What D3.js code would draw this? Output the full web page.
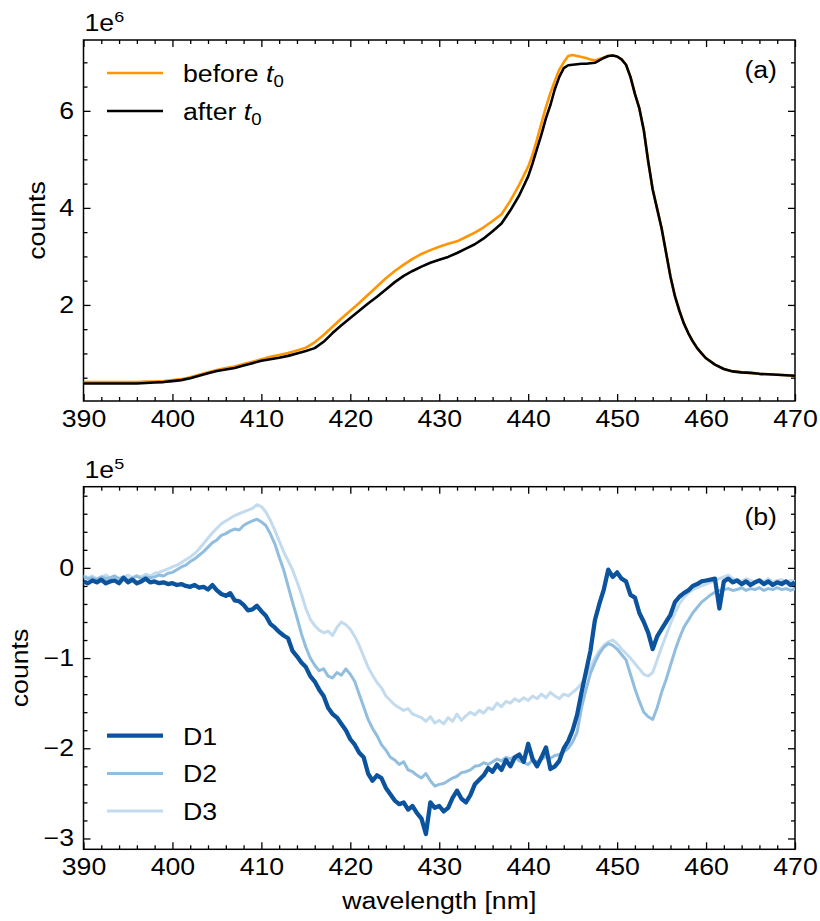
<!DOCTYPE html>
<html lang="en">
<head>
<meta charset="UTF-8">
<title>Spectra before / after t0</title>
<script src="https://d3js.org/d3.v7.min.js"></script>
<style>
  body { margin: 0; background: #fff; }
  svg { display: block; font-family: "Liberation Sans", Arial, sans-serif; }
</style>
</head>
<body>
<svg id="chart" width="820" height="921"></svg>
<script>
// ---- data (panel a in 1e6 counts, panel b in 1e5 counts) ----
const xTicks = [390, 400, 410, 420, 430, 440, 450, 460, 470];
const yTicksA = [2, 4, 6];
const yTicksB = [0, -1, -2, -3];

const wlA = [390,391,392,393,394,395,396,397,398,399,400,401,402,403,404,405,406,407,408,409,
  410,411,412,413,414,415,416,417,418,419,420,421,422,423,424,425,426,427,428,429,
  430,431,432,433,434,435,436,437,438,439,440,440.5,441,441.5,442,442.5,443,443.5,444,444.5,
  445,445.5,446,446.5,447,447.5,448,448.5,449,449.5,450,450.5,451,451.5,452,452.5,453,453.5,454,454.5,
  455,455.5,456,456.5,457,457.5,458,458.5,459,459.5,460,461,462,463,464,465,466,467,468,469,470];
const before = [0.41,0.41,0.41,0.41,0.41,0.41,0.41,0.42,0.42,0.43,0.45,0.47,0.51,0.56,0.61,0.66,0.70,0.73,0.78,0.83,
  0.88,0.93,0.97,1.01,1.06,1.12,1.23,1.38,1.55,1.72,1.88,2.04,2.21,2.38,2.55,2.70,2.83,2.95,3.05,3.13,
  3.20,3.26,3.31,3.40,3.49,3.60,3.73,3.87,4.15,4.48,4.85,5.10,5.42,5.75,6.08,6.37,6.62,6.85,7.00,7.13,
  7.15,7.13,7.11,7.09,7.06,7.04,7.07,7.10,7.13,7.14,7.12,7.06,6.95,6.70,6.35,6.05,5.60,4.95,4.38,3.98,
  3.58,3.08,2.58,2.18,1.88,1.62,1.42,1.25,1.11,1.00,0.90,0.77,0.68,0.63,0.61,0.60,0.58,0.57,0.56,0.55,0.54];
const after = [0.38,0.38,0.38,0.38,0.38,0.38,0.38,0.39,0.40,0.41,0.43,0.45,0.49,0.54,0.59,0.64,0.67,0.70,0.75,0.80,
  0.85,0.88,0.91,0.95,1.00,1.05,1.11,1.24,1.42,1.58,1.73,1.88,2.03,2.17,2.32,2.47,2.60,2.70,2.79,2.87,
  2.93,2.99,3.07,3.16,3.25,3.37,3.52,3.68,3.95,4.26,4.65,4.92,5.22,5.52,5.85,6.12,6.45,6.70,6.88,6.94,
  6.95,6.96,6.97,6.97,6.98,6.99,7.04,7.09,7.13,7.14,7.12,7.06,6.95,6.70,6.35,6.05,5.60,4.95,4.38,3.98,
  3.58,3.08,2.58,2.18,1.88,1.62,1.42,1.25,1.11,1.00,0.90,0.77,0.68,0.63,0.61,0.60,0.58,0.57,0.56,0.55,0.54];

const wlB = [390,390.5,391,391.5,392,392.5,393,393.5,394,394.5,395,395.5,396,396.5,397,397.5,398,398.5,399,399.5,
  400,400.5,401,401.5,402,402.5,403,403.5,404,404.5,405,405.5,406,406.5,407,407.5,408,408.5,409,409.5,
  410,410.5,411,411.5,412,412.5,413,413.5,414,414.5,415,415.5,416,416.5,417,417.5,418,418.5,419,419.5,
  420,420.5,421,421.5,422,422.5,423,423.5,424,424.5,425,425.5,426,426.5,427,427.5,428,428.5,429,429.5,
  430,430.5,431,431.5,432,432.5,433,433.5,434,434.5,435,435.5,436,436.5,437,437.5,438,438.5,439,439.5,
  440,440.5,441,441.5,442,442.5,443,443.5,444,444.5,445,445.5,446,446.5,447,447.5,448,448.5,449,449.5,
  450,450.5,451,451.5,452,452.5,453,453.5,454,454.5,455,455.5,456,456.5,457,457.5,458,458.5,459,459.5,
  460,460.5,461,461.5,462,462.5,463,463.5,464,464.5,465,465.5,466,466.5,467,467.5,468,468.5,469,469.5,470];
const d1 = [-0.15,-0.17,-0.14,-0.16,-0.13,-0.17,-0.15,-0.14,-0.17,-0.11,
  -0.16,-0.13,-0.17,-0.15,-0.12,-0.16,-0.15,-0.17,-0.16,-0.18,
  -0.17,-0.19,-0.18,-0.20,-0.21,-0.19,-0.22,-0.21,-0.24,-0.19,
  -0.25,-0.29,-0.31,-0.28,-0.36,-0.37,-0.41,-0.47,-0.46,-0.42,
  -0.48,-0.53,-0.62,-0.66,-0.71,-0.75,-0.78,-0.92,-0.98,-1.05,
  -1.10,-1.20,-1.26,-1.35,-1.42,-1.55,-1.62,-1.66,-1.73,-1.80,
  -1.90,-1.96,-2.05,-2.10,-2.28,-2.36,-2.30,-2.33,-2.44,-2.51,
  -2.58,-2.62,-2.60,-2.68,-2.64,-2.72,-2.78,-2.95,-2.60,-2.66,
  -2.64,-2.70,-2.66,-2.55,-2.47,-2.56,-2.60,-2.52,-2.40,-2.35,
  -2.30,-2.22,-2.26,-2.18,-2.24,-2.13,-2.20,-2.10,-2.07,-2.15,
  -1.95,-2.12,-2.20,-2.10,-1.99,-2.23,-2.20,-2.14,-2.00,-1.92,
  -1.80,-1.63,-1.38,-1.15,-0.92,-0.58,-0.40,-0.24,-0.02,-0.10,
  -0.05,-0.12,-0.15,-0.30,-0.33,-0.50,-0.60,-0.72,-0.90,-0.76,
  -0.68,-0.60,-0.52,-0.38,-0.32,-0.28,-0.25,-0.20,-0.18,-0.15,
  -0.14,-0.13,-0.12,-0.45,-0.15,-0.12,-0.16,-0.14,-0.18,-0.15,
  -0.19,-0.16,-0.14,-0.18,-0.15,-0.19,-0.16,-0.18,-0.15,-0.19,
  -0.16];
const d2 = [-0.10,-0.12,-0.11,-0.13,-0.10,-0.12,-0.11,-0.09,-0.12,-0.10,
  -0.13,-0.11,-0.09,-0.12,-0.10,-0.11,-0.10,-0.08,-0.09,-0.06,
  -0.05,-0.02,0.01,0.03,0.07,0.10,0.14,0.18,0.23,0.28,
  0.31,0.36,0.38,0.41,0.43,0.42,0.47,0.50,0.52,0.54,
  0.51,0.47,0.38,0.27,0.12,-0.02,-0.20,-0.38,-0.55,-0.73,
  -0.88,-1.00,-1.08,-1.14,-1.12,-1.20,-1.22,-1.16,-1.19,-1.12,
  -1.18,-1.26,-1.40,-1.54,-1.68,-1.78,-1.86,-1.96,-2.02,-2.10,
  -2.13,-2.18,-2.15,-2.24,-2.26,-2.30,-2.33,-2.28,-2.36,-2.42,
  -2.40,-2.39,-2.36,-2.33,-2.31,-2.27,-2.26,-2.24,-2.20,-2.19,
  -2.16,-2.18,-2.15,-2.12,-2.14,-2.10,-2.12,-2.09,-2.14,-2.16,
  -2.18,-2.13,-2.15,-2.12,-2.09,-2.11,-2.08,-2.07,-2.04,-2.00,
  -1.93,-1.82,-1.55,-1.35,-1.17,-1.05,-0.95,-0.88,-0.84,-0.86,
  -0.90,-0.96,-1.02,-1.18,-1.34,-1.48,-1.60,-1.65,-1.68,-1.55,
  -1.38,-1.24,-1.08,-0.92,-0.78,-0.66,-0.58,-0.50,-0.44,-0.38,
  -0.34,-0.30,-0.27,-0.25,-0.24,-0.23,-0.25,-0.24,-0.22,-0.25,
  -0.23,-0.24,-0.22,-0.25,-0.23,-0.24,-0.22,-0.24,-0.23,-0.25,
  -0.23];
const d3v = [-0.08,-0.11,-0.09,-0.12,-0.10,-0.08,-0.11,-0.09,-0.12,-0.10,
  -0.08,-0.11,-0.09,-0.10,-0.07,-0.09,-0.06,-0.05,-0.03,-0.01,
  0.01,0.03,0.06,0.09,0.12,0.16,0.21,0.27,0.33,0.39,
  0.44,0.49,0.52,0.55,0.58,0.60,0.62,0.64,0.66,0.70,
  0.68,0.62,0.53,0.42,0.30,0.18,0.08,-0.02,-0.15,-0.29,
  -0.45,-0.57,-0.64,-0.69,-0.72,-0.70,-0.75,-0.66,-0.60,-0.63,
  -0.68,-0.76,-0.86,-0.98,-1.10,-1.19,-1.27,-1.33,-1.42,-1.47,
  -1.52,-1.55,-1.58,-1.56,-1.62,-1.64,-1.66,-1.70,-1.65,-1.72,
  -1.69,-1.73,-1.66,-1.70,-1.62,-1.69,-1.64,-1.60,-1.63,-1.58,
  -1.61,-1.55,-1.57,-1.50,-1.54,-1.48,-1.50,-1.45,-1.48,-1.44,
  -1.47,-1.42,-1.45,-1.40,-1.44,-1.38,-1.42,-1.45,-1.40,-1.42,
  -1.38,-1.34,-1.28,-1.20,-1.10,-1.00,-0.92,-0.86,-0.82,-0.80,
  -0.84,-0.90,-0.95,-1.00,-1.06,-1.12,-1.18,-1.20,-1.16,-1.02,
  -0.88,-0.75,-0.62,-0.50,-0.40,-0.33,-0.28,-0.24,-0.22,-0.20,
  -0.18,-0.16,-0.14,-0.12,-0.10,-0.08,-0.12,-0.13,-0.15,-0.12,
  -0.14,-0.16,-0.13,-0.15,-0.12,-0.16,-0.14,-0.13,-0.16,-0.14,
  -0.15];

// ---- layout ----
const svg = d3.select("#chart");
const FS = 23;      // font size
const SX = 1.16;    // the source font runs wider than Liberation Sans
const left = 83.5, right = 795;
const x = d3.scaleLinear().domain([390, 470]).range([left, right]);
const xMinor = d3.range(390, 471, 2).filter(v => v % 10 !== 0);

// widen text along its own baseline, keeping its anchor point fixed
function widen(sel) {
    sel.each(function () {
        const t = d3.select(this);
        const x0 = +t.attr("x") || 0;
        const prev = t.attr("transform") || "";
        t.attr("transform", `${prev} translate(${x0},0) scale(${SX},1) translate(${-x0},0)`);
    });
}

function panel(top, bottom, yDomain, yMajor, yMinor, exponent, tag, labelX) {
    const y = d3.scaleLinear().domain(yDomain).range([bottom, top]);
    const g = svg.append("g");

    const axes = [
        [d3.axisBottom(x), `translate(0,${bottom})`, xTicks, xMinor, true],
        [d3.axisTop(x), `translate(0,${top})`, xTicks, xMinor, false],
        [d3.axisLeft(y), `translate(${left},0)`, yMajor, yMinor, true],
        [d3.axisRight(y), `translate(${right},0)`, yMajor, yMinor, false]
    ];
    axes.forEach(([ax, tr, major, minor, labels]) => {
        const gm = g.append("g").attr("transform", tr)
            .call(ax.tickValues(minor).tickSize(-4).tickFormat(""));
        gm.select(".domain").remove();
        gm.selectAll("line").attr("stroke-width", 1.3);

        const ga = g.append("g").attr("transform", tr)
            .call(ax.tickValues(major).tickSize(-7).tickPadding(labels ? 9.5 : 0)
                .tickFormat(labels ? d3.format("") : ""));
        ga.select(".domain").remove();
        ga.selectAll("line").attr("stroke-width", 1.3);
        ga.attr("font-size", FS).attr("font-family", null);
        ga.selectAll("text").attr("fill", "#000").call(widen);
    });

    // frame
    g.append("rect")
        .attr("x", left).attr("y", top)
        .attr("width", right - left).attr("height", bottom - top)
        .attr("fill", "none").attr("stroke", "#000").attr("stroke-width", 1.5);

    // offset text like 1e6
    const off = g.append("text").attr("x", left + 1).attr("y", top - 8.5)
        .attr("font-size", FS).text("1e");
    off.append("tspan").attr("font-size", 15.5).attr("dy", -9).text(exponent);
    widen(off);

    // y label
    g.append("text")
        .attr("transform", `translate(${labelX},${(top + bottom) / 2}) rotate(-90)`)
        .attr("text-anchor", "middle").attr("font-size", FS).text("counts")
        .call(widen);

    // panel tag
    g.append("text").attr("x", right - 18).attr("y", top + 38)
        .attr("text-anchor", "end").attr("font-size", FS).text(tag)
        .call(widen);

    const clipId = "clip" + tag.replace(/[()]/g, "");
    svg.append("clipPath").attr("id", clipId).append("rect")
        .attr("x", left).attr("y", top).attr("width", right - left).attr("height", bottom - top);
    const plot = svg.append("g").attr("clip-path", `url(#${clipId})`);
    return { y, plot, g };
}

// ---- panel (a) ----
const pa = panel(40, 401, [0.02, 7.46], yTicksA, d3.range(0.5, 7.4, 0.5).filter(v => v % 2 !== 0), "6", "(a)", 45);
const lineA = d3.line().x((d, i) => x(wlA[i])).y(d => pa.y(d));
pa.plot.append("path").datum(before).attr("d", lineA)
    .attr("fill", "none").attr("stroke", "#ff9500").attr("stroke-width", 2.6).attr("stroke-linejoin", "round");
pa.plot.append("path").datum(after).attr("d", lineA)
    .attr("fill", "none").attr("stroke", "#000").attr("stroke-width", 2.6).attr("stroke-linejoin", "round");

const legA = [["before ", "#ff9500", 73], ["after ", "#000", 111]];
legA.forEach(([lab, col, ly]) => {
    pa.g.append("line").attr("x1", 107).attr("x2", 163).attr("y1", ly).attr("y2", ly)
        .attr("stroke", col).attr("stroke-width", 2.6);
    const t = pa.g.append("text").attr("x", 183).attr("y", ly + 9).attr("font-size", FS);
    t.append("tspan").text(lab);
    t.append("tspan").attr("font-style", "italic").text("t");
    t.append("tspan").attr("font-size", 16).attr("dy", 5).text("0");
    widen(t);
});

// ---- panel (b) ----
const minorB = d3.range(-30, 9, 2).map(v => v / 10).filter(v => !Number.isInteger(v));
const pb = panel(486.7, 849.3, [-3.12, 0.9], yTicksB, minorB, "5", "(b)", 28);
const lineB = d3.line().x((d, i) => x(wlB[i])).y(d => pb.y(d));
const seriesB = [
    { name: "D3", vals: d3v, color: "#c3dbee", w: 3.0 },
    { name: "D2", vals: d2, color: "#91bedf", w: 3.0 },
    { name: "D1", vals: d1, color: "#0b539d", w: 4.3 }
];
seriesB.forEach(s => {
    pb.plot.append("path").datum(s.vals).attr("d", lineB)
        .attr("fill", "none").attr("stroke", s.color).attr("stroke-width", s.w)
        .attr("stroke-linejoin", "round");
});

const legB = [["D1", 735.7], ["D2", 773.5], ["D3", 811]];
legB.forEach(([name, ly]) => {
    const s = seriesB.find(d => d.name === name);
    pb.g.append("line").attr("x1", 107).attr("x2", 163).attr("y1", ly).attr("y2", ly)
        .attr("stroke", s.color).attr("stroke-width", s.w);
    pb.g.append("text").attr("x", 183).attr("y", ly + 9).attr("font-size", FS).text(name)
        .call(widen);
});

// x label
svg.append("text").attr("x", (left + right) / 2).attr("y", 909)
    .attr("text-anchor", "middle").attr("font-size", FS).text("wavelength [nm]")
    .call(widen);
</script>
</body>
</html>
